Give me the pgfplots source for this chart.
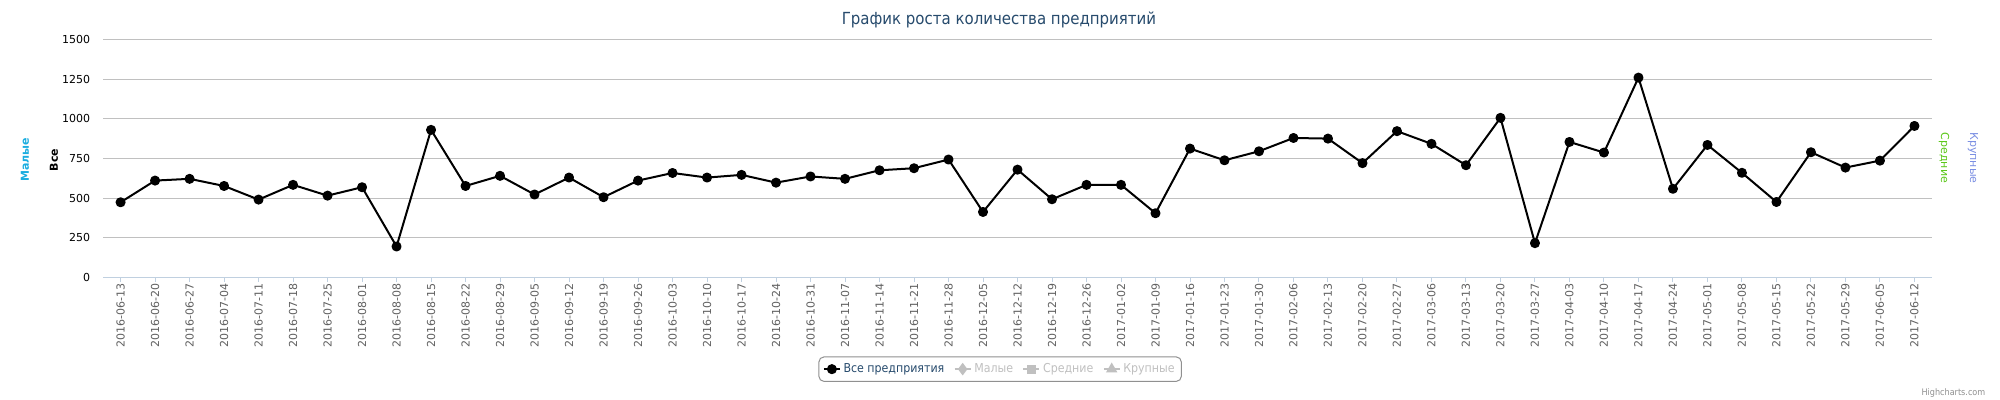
\documentclass[border=0pt]{standalone}
\usepackage{fontspec}
\setmainfont{DejaVu Sans Condensed}
\newfontfamily\dvs{DejaVu Sans}
\usepackage{pgfplots}
\usepackage{pgfplotstable}
\pgfplotsset{compat=1.18}
\definecolor{titleblue}{HTML}{274B6D}
\definecolor{gridgrey}{HTML}{C0C0C0}
\definecolor{axisblue}{HTML}{C0D0E0}
\definecolor{ticklab}{HTML}{606060}
\definecolor{legendborder}{HTML}{909090}
\definecolor{malye}{HTML}{1AADE0}
\definecolor{srednie}{HTML}{5CC81A}
\definecolor{krupnye}{HTML}{7B8FE3}

\pgfplotstableread{
idx date val
0 2016-06-13 473
1 2016-06-20 610
2 2016-06-27 621
3 2016-07-04 576
4 2016-07-11 490
5 2016-07-18 583
6 2016-07-25 515
7 2016-08-01 568
8 2016-08-08 194
9 2016-08-15 930
10 2016-08-22 576
11 2016-08-29 640
12 2016-09-05 522
13 2016-09-12 629
14 2016-09-19 505
15 2016-09-26 610
16 2016-10-03 658
17 2016-10-10 629
18 2016-10-17 646
19 2016-10-24 597
20 2016-10-31 636
21 2016-11-07 621
22 2016-11-14 675
23 2016-11-21 688
24 2016-11-28 743
25 2016-12-05 412
26 2016-12-12 679
27 2016-12-19 492
28 2016-12-26 583
29 2017-01-02 583
30 2017-01-09 404
31 2017-01-16 812
32 2017-01-23 738
33 2017-01-30 795
34 2017-02-06 879
35 2017-02-13 875
36 2017-02-20 720
37 2017-02-27 922
38 2017-03-06 842
39 2017-03-13 707
40 2017-03-20 1006
41 2017-03-27 215
42 2017-04-03 854
43 2017-04-10 787
44 2017-04-17 1260
45 2017-04-24 558
46 2017-05-01 835
47 2017-05-08 659
48 2017-05-15 475
49 2017-05-22 789
50 2017-05-29 692
51 2017-06-05 736
52 2017-06-12 955
}\data

\begin{document}
\begin{tikzpicture}
\useasboundingbox (0,0) rectangle (1500pt,-300pt);
\fill[white] (0,0) rectangle (1500pt,-300pt);
\begin{axis}[
  at={(77.5pt,-207.9pt)}, anchor=south west,
  scale only axis, width=1371.3pt, height=178.2pt,
  xmin=-0.5, xmax=52.5, ymin=0, ymax=1500,
  ytick={0,250,...,1500},
  xtick=data,
  xticklabels from table={\data}{date},
  separate axis lines,
  axis x line*=bottom, axis y line*=left,
  x axis line style={draw=axisblue, line width=0.75pt, -},
  y axis line style={draw=none},
  ymajorgrids,
  major grid style={draw=gridgrey, line width=0.75pt},
  tick align=outside,
  major tick length=3.75pt,
  xtick style={draw=axisblue, line width=0.75pt},
  ytick style={draw=none},
  /pgf/number format/assume math mode=true,
  /pgf/number format/1000 sep={},
  yticklabel style={font=\dvs\fontsize{8.25}{9}\selectfont, text=black, anchor=east, inner sep=0pt, xshift=-6pt},
  xticklabel style={rotate=90, anchor=east, font=\dvs\fontsize{8.25}{9}\selectfont, text=ticklab, inner sep=1pt},
  legend columns=4,
  legend cell align=left,
  legend style={at={(0.4905,-0.387)}, anchor=center, draw=legendborder, rounded corners=3.75pt,
    line width=0.75pt, font=\fontsize{9.2}{11}\selectfont, inner xsep=3pt, inner ysep=3pt,
    /tikz/every even column/.append style={column sep=5pt}},
  legend image code/.code={\draw[mark repeat=2,mark phase=2] plot coordinates {(0cm,0cm) (0.21cm,0cm) (0.42cm,0cm)};},
]
\addplot[black, line width=1.5pt, line join=round, mark=*, mark size=3pt] table[x=idx,y=val]{\data};
\addlegendentry{\textcolor{titleblue}{Все предприятия}}
\addlegendimage{gridgrey, line width=1.5pt, mark=diamond*, mark size=3.5pt}
\addlegendentry{\textcolor{gridgrey}{Малые}}
\addlegendimage{gridgrey, line width=1.5pt, mark=square*, mark size=2.6pt}
\addlegendentry{\textcolor{gridgrey}{Средние}}
\addlegendimage{gridgrey, line width=1.5pt, mark=triangle*, mark size=3.5pt}
\addlegendentry{\textcolor{gridgrey}{Крупные}}
\end{axis}
\node[font=\fontsize{12.5}{14}\selectfont, text=titleblue] at (749.25pt,-15pt) {График роста количества предприятий};
\node[rotate=90, font=\dvs\bfseries\fontsize{8.25}{10}\selectfont, text=malye] at (18.75pt,-120pt) {Малые};
\node[rotate=90, font=\dvs\bfseries\fontsize{8.25}{10}\selectfont, text=black] at (40.5pt,-120pt) {Все};
\node[rotate=-90, font=\dvs\fontsize{8.25}{10}\selectfont, text=srednie] at (1458pt,-118.5pt) {Средние};
\node[rotate=-90, font=\dvs\fontsize{8.25}{10}\selectfont, text=krupnye] at (1479.75pt,-118.5pt) {Крупные};
\node[anchor=east, font=\fontsize{6.75}{8}\selectfont, text=legendborder] at (1492.5pt,-294.75pt) {Highcharts.com};
\end{tikzpicture}
\end{document}
